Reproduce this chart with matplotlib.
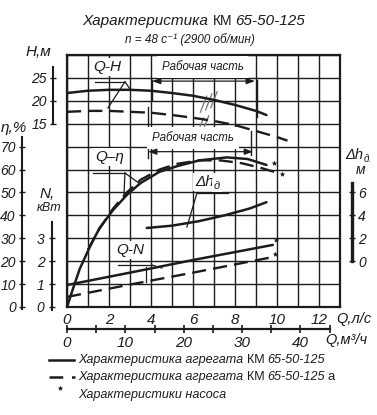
# Характеристика КМ 65-50-125: перерисовка номограммы насоса
import numpy as np
import matplotlib
matplotlib.use("Agg")
import matplotlib.pyplot as plt
from matplotlib.lines import Line2D

# --- данные ---
q_ticks = [0, 2, 4, 6, 8, 10, 12]          # Q, л/с
m3_ticks = [0, 10, 20, 30, 40]              # Q, м3/ч
H_ticks = [15, 20, 25]
eta_ticks = [0, 10, 20, 30, 40, 50, 60, 70]
N_ticks = [0, 1, 2, 3]
dh_ticks = [0, 2, 4, 6]

# Q-H
qH_solid = [0, 1, 2, 3, 4, 5, 6, 7, 8, 9, 9.5]
H_solid = [21.7, 22.2, 22.4, 22.4, 22.2, 21.7, 21.1, 20.2, 19.1, 17.8, 16.9]
qH_dash = [0, 1, 2, 3, 4, 5, 6, 7, 8, 9, 10, 10.5]
H_dash = [17.6, 17.8, 17.8, 17.6, 17.4, 16.9, 16.3, 15.6, 14.7, 13.4, 12.1, 11.3]
# Q-eta
qE_solid = [0, 0.25, 0.6, 1.1, 1.55, 2.2, 2.85, 3.5, 4.4, 5.25, 6.3, 7.6, 8.6, 9.5]
E_solid = [0, 7.0, 16.5, 26.5, 34.5, 42.4, 48.9, 54.1, 59.0, 61.5, 64.0, 65.3, 64.6, 62.0]
qE_dash = [1.0, 1.5, 2.2, 2.85, 3.5, 4.4, 5.25, 6.3, 7.3, 8.3, 9.2, 10.05]
E_dash = [25.0, 33.5, 43.0, 50.0, 55.5, 60.0, 62.5, 64.0, 64.0, 62.8, 60.8, 58.5]
# Q-N
qN_solid = [0, 3, 6, 9.8]
N_solid = [0.96, 1.50, 2.05, 2.71]
qN_dash = [0, 3, 6, 9.8]
N_dash = [0.44, 0.98, 1.50, 2.18]
# Δh_д
q_dh = [3.8, 5.0, 6.3, 7.5, 8.7, 9.5]
dh = [2.9, 3.1, 3.5, 4.0, 4.6, 5.15]
# точки характеристики насоса (*)
starE_q, starE_v = [9.86, 10.24], [63.0, 58.0]
starN_q, starN_v = [9.95, 9.9], [2.93, 2.3]

W, H = 377, 415
INK = "#1c1c1c"
FAM = ["Liberation Sans", "DejaVu Sans"]
plt.rcParams["font.family"] = FAM
plt.rcParams["font.style"] = "italic"
plt.rcParams["text.color"] = INK

fig = plt.figure(figsize=(W / 100, H / 100), dpi=100)
ax = fig.add_axes([67 / W, 1 - 307 / H, 273 / W, 252 / H])
ax.set_xlim(0, 13)
ax.set_ylim(0, 110)
ax.set_xticks(q_ticks)
ax.set_xticklabels([str(v) for v in q_ticks])
ax.set_xticks(np.arange(0, 14), minor=True)
ax.set_yticks(np.arange(0, 111, 10))
ax.set_yticklabels([])
ax.tick_params(which="both", length=0)
ax.tick_params(axis="x", labelsize=11, pad=4, labelcolor=INK)
ax.grid(which="both", color=INK, lw=1.0)
ax.set_axisbelow(True)
for s in ax.spines.values():
    s.set_linewidth(1.6)
    s.set_color(INK)


def scale(side, out_px, ylim, bounds, ticks, lw=1.5, pad=2):
    t = ax.twinx()
    t.set_ylim(*ylim)
    for s in t.spines.values():
        s.set_visible(False)
    sp = t.spines[side]
    sp.set_visible(True)
    sp.set_position(("outward", out_px * 0.72))
    sp.set_bounds(*bounds)
    sp.set_linewidth(lw)
    sp.set_color(INK)
    t.yaxis.set_ticks_position(side)
    t.set_yticks(ticks)
    t.tick_params(axis="y", direction="inout", length=5, width=1, pad=pad,
                  labelsize=10, colors=INK)
    return t


axH = scale("left", 14, (-25, 30), (15, 27.4), H_ticks)
axE = scale("left", 45, (0, 110), (-1, 74), eta_ticks)
axN = scale("left", 15, (0, 11), (-0.15, 3.7), N_ticks, pad=3)
axD = scale("right", 12, (-4, 18), (0, 6.8), dh_ticks, lw=2.4)

sol = dict(color=INK, lw=1.8, solid_capstyle="round")
dsh = dict(color=INK, lw=1.7, ls=(0, (6, 3)))
star = dict(ls="none", marker="*", ms=3.2, mew=0.4, color=INK)
axH.plot(qH_solid, H_solid, **sol)
axH.plot(qH_dash, H_dash, **dsh)
axE.plot(qE_solid, E_solid, **sol)
axE.plot(qE_dash, E_dash, **dsh)
axE.plot(starE_q, starE_v, **star)
axN.plot(qN_solid, N_solid, **sol)
axN.plot(qN_dash, N_dash, **dsh)
axN.plot(starN_q, starN_v, **star)
axD.plot(q_dh, dh, **sol)

# ось Q, м3/ч
sec = ax.secondary_xaxis(-22 / 252, functions=(lambda q: q * 3.6, lambda m: m / 3.6))
sec.spines["bottom"].set_bounds(0, 45)
sec.spines["bottom"].set_linewidth(1.6)
sec.spines["bottom"].set_color(INK)
sec.set_xticks(m3_ticks)
sec.set_xticks([5, 15, 25, 35, 45], minor=True)
sec.tick_params(which="both", direction="inout", length=6, width=1.2,
                labelsize=11, pad=2, colors=INK)

# подписи кривых и выноски (в координатах Q, η)
box = dict(boxstyle="square,pad=0.15", fc="white", ec="none")
lead = dict(color=INK, lw=0.9)
ax.text(1.9, 104.8, "Q-H", fontsize=11, ha="center", va="center", bbox=box, zorder=3)
ax.plot([1.33, 2.76], [98.3, 98.3], **lead)
ax.plot([2.76, 3.05], [98.3, 94.5], **lead)
ax.plot([2.76, 1.95], [98.3, 86.9], **lead)

ax.text(2.05, 65.5, "Q–η", fontsize=11, ha="center", va="center", bbox=box, zorder=3)
ax.plot([1.24, 2.76], [58.5, 58.5], **lead)
ax.plot([2.76, 3.48], [58.5, 53.7], **lead)
ax.plot([2.76, 2.71], [58.5, 48.5], **lead)

ax.text(3.0, 24.9, "Q-N", fontsize=11, ha="center", va="center", bbox=box, zorder=3)
ax.plot([2.43, 4.05], [18.3, 18.3], **lead)
ax.plot([4.05, 4.52], [18.3, 17.0], **lead)
ax.plot([3.76, 3.76], [17.5, 10.9], **lead)

ax.text(7.0, 54.5, "Δh", fontsize=11, ha="right", va="center", bbox=box, zorder=3)
ax.text(7.0, 53.0, "д", fontsize=8, ha="left", va="center", bbox=box, zorder=3)
ax.plot([6.19, 7.67], [49.8, 49.8], **lead)
ax.plot([6.19, 5.71], [49.8, 34.9], **lead)

# рабочая часть
for xc, yt, ya, x0, x1, marks in [
    (6.45, 104.8, 98.6, 4.05, 8.95, [(4.05, 99.3, 90.4), (9.05, 99.3, 83.0)]),
    (6.0, 73.8, 67.8, 3.86, 8.86, [(3.86, 87.3, 65.0), (8.75, 77.0, 66.4)]),
]:
    ax.text(xc, yt, "Рабочая часть", fontsize=8.3, ha="center", va="center",
            bbox=dict(boxstyle="square,pad=0.4", fc="white", ec="none"), zorder=3)
    ax.annotate("", xy=(x0, ya), xytext=(x1, ya),
                arrowprops=dict(arrowstyle="<|-|>,head_length=0.5,head_width=0.18",
                                color=INK, lw=0.9, shrinkA=0, shrinkB=0))
    for xm, y0, y1 in marks:
        ax.plot([xm, xm], [y0, y1], color=INK, lw=1.0)

# штриховка у кривых Q-H
for xs, ys in [(6.35, 88.5), (6.6, 89.5), (6.85, 90.5), (6.2, 79.0), (6.45, 80.0)]:
    ax.plot([xs, xs + 0.3], [ys - 3.5, ys + 3.5], color="#777777", lw=0.9)

# подписи осей
def ft(x, y, s, **kw):
    kw.setdefault("fontsize", 10)
    return fig.text(x / W, 1 - y / H, s, **kw)

renderer = fig.canvas.get_renderer()

ft(38, 52, "H,м", ha="center", va="center", fontsize=11)
ft(1, 128, "η,%", ha="left", va="center", fontsize=11)
ft(47, 194, "N,", ha="center", va="center", fontsize=11)
ft(49, 208, "кВт", ha="center", va="center", fontsize=9)
t_dh = ft(345, 155, "Δh", ha="left", va="center", fontsize=10.5)
ft(345 + t_dh.get_window_extent(renderer=renderer).width + 0.5, 159, "д.",
   ha="left", va="center", fontsize=7)
ft(361, 170, "м", ha="center", va="center", fontsize=10)
ft(336, 319, "Q,л/с", ha="left", va="center", fontsize=10.5)
ft(325, 340, "Q,м³/ч", ha="left", va="center", fontsize=10.5)


def runs(x, y, parts):
    cur = x
    for s, style, size, gap in parts:
        t = ft(cur, y, s, fontstyle=style, fontsize=size, ha="left", va="center")
        cur += t.get_window_extent(renderer=renderer).width + gap


runs(82, 21, [("Характеристика", "italic", 11, 5), ("КМ", "normal", 10, 3),
              ("65-50-125", "italic", 11, 0)])
ft(190, 40, "n = 48 с⁻¹ (2900 об/мин)", ha="center", va="center", fontsize=8.5)

# легенда
fig.add_artist(Line2D([49 / W, 74 / W], [1 - 360 / H] * 2, color=INK, lw=1.8))
fig.add_artist(Line2D([49 / W, 75 / W], [1 - 377 / H] * 2, color=INK, lw=1.8,
                      ls=(0, (5.5, 3.5))))
fig.add_artist(Line2D([60 / W], [1 - 388 / H], **star))
runs(78, 360, [("Характеристика агрегата", "italic", 9.1, 4), ("КМ", "normal", 9, 3),
               ("65-50-125", "italic", 9.1, 0)])
runs(78, 377, [("Характеристика агрегата", "italic", 9.1, 4), ("КМ", "normal", 9, 3),
               ("65-50-125", "italic", 9.1, 2), ("а", "normal", 9.5, 0)])
ft(78, 395, "Характеристики насоса", ha="left", va="center", fontsize=9.1)

fig.savefig("out.png", dpi=100)
